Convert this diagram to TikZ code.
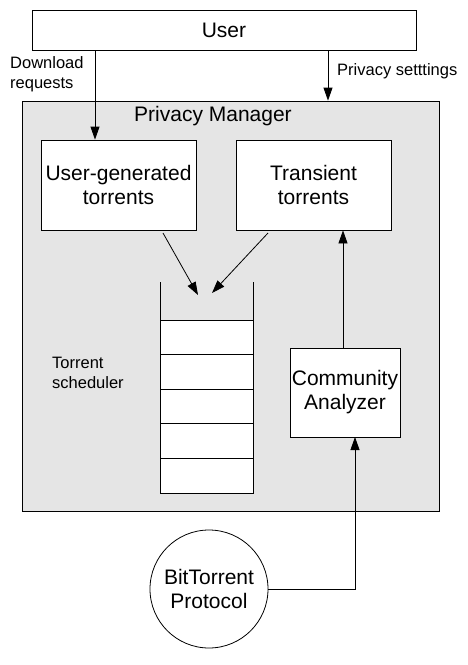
\documentclass[tikz,border=0pt]{standalone}
\usepackage{fontspec}
\setmainfont{Liberation Sans}
\usetikzlibrary{arrows.meta}
\definecolor{pmgray}{gray}{0.9}

\begin{document}
\begin{tikzpicture}[x=1pt,y=-1pt,
  box/.style={draw, line width=0.8pt, fill=white, align=center, inner sep=0pt,
    font=\fontsize{21}{24}\selectfont},
  lbl/.style={align=left, inner sep=0pt, font=\fontsize{16.5}{19.5}\selectfont},
  arr/.style={-{Triangle[width=9pt,length=13pt]}, line width=0.8pt}]
  \useasboundingbox (0,0) rectangle (468,665);
  % user and the privacy manager
  \node[box, minimum width=384, minimum height=40] (user) at (224,30) {User};
  \node[box, fill=pmgray, minimum width=417, minimum height=410] (pm) at (230.5,306) {};
  \node[box, draw=none, fill=none] (pmtitle) at (213,116) {Privacy Manager};
  \node[box, minimum width=155, minimum height=90] (ug) at (118.5,185) {User-generated\\torrents};
  \node[box, minimum width=155, minimum height=90] (tr) at (313.5,185) {Transient\\torrents};
  \node[box, minimum width=110, minimum height=89] (ca) at (345,392.5) {Community\\Analyzer};
  \node[box, circle, minimum size=118] (bt) at (209,589) {BitTorrent\\Protocol};
  % labels
  \node[lbl, anchor=west] (dlreq) at (10,74) {Download\\requests};
  \node[lbl, anchor=west] (pset) at (337,71) {Privacy setttings};
  \node[lbl, anchor=west] (sched) at (52,373) {Torrent\\scheduler};
  % torrent scheduler stack
  \foreach \i in {0,...,4}
    \node[draw, line width=0.8pt, fill=white, minimum width=93, minimum height=34.6,
      inner sep=0pt] (cell\i) at (206.5,337.3+34.6*\i) {};
  \coordinate (wallL) at (160,282);
  \coordinate (wallR) at (253,282);
  \draw[line width=0.8pt] (wallL) -- (wallL |- cell0.north);
  \draw[line width=0.8pt] (wallR) -- (wallR |- cell0.north);
  % connectors
  \coordinate (dl) at (95,50);
  \coordinate (ps) at (328,50);
  \draw[arr] (dl) -- (dl |- ug.north);
  \draw[arr] (ps) -- (ps |- pm.north);
  \coordinate (ugout) at (163,233);
  \coordinate (trout) at (268,233);
  \coordinate (in1) at (198,295);
  \coordinate (in2) at (212,293);
  \draw[arr] (ugout) -- (in1);
  \draw[arr] (trout) -- (in2);
  \draw[arr] (ca.north -| 343,0) -- (tr.south -| 343,0);
  \coordinate (btin) at (355,437);
  \draw[arr] (bt.east) -| (btin);
\end{tikzpicture}
\end{document}
